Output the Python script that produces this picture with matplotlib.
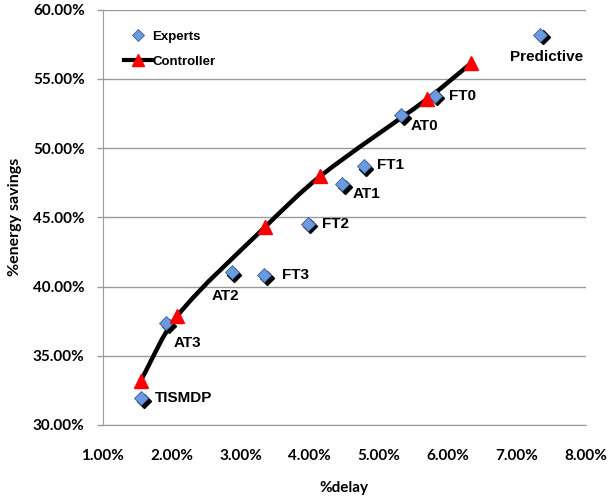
import matplotlib
matplotlib.use("Agg")
import numpy as np
import matplotlib.pyplot as plt
import matplotlib.transforms as mtransforms
from matplotlib.path import Path
from matplotlib.patches import PathPatch
from matplotlib.ticker import FuncFormatter, MultipleLocator
from matplotlib.lines import Line2D

plt.rcParams['font.family'] = ['Liberation Sans', 'DejaVu Sans']

# Experts (delay %, energy savings %)
expert_names = ["Predictive", "FT0", "AT0", "FT1", "AT1", "FT2", "FT3", "AT2", "AT3", "TISMDP"]
expert_delay = [7.34, 5.81, 5.33, 4.78, 4.47, 3.97, 3.34, 2.87, 1.92, 1.56]
expert_savings = [58.16, 53.77, 52.38, 48.68, 47.40, 44.52, 40.82, 41.04, 37.34, 31.92]

# Controller
ctrl_delay = [1.55, 2.08, 3.35, 4.15, 5.70, 6.34]
ctrl_savings = [33.2, 37.87, 44.28, 47.95, 53.53, 56.12]

# label offsets (pixels) and alignment
label_offsets = {
    "Predictive": (6, -22, "center"),
    "FT0": (14, 0, "left"),
    "AT0": (9, -11, "left"),
    "FT1": (13, 1, "left"),
    "AT1": (10, -10, "left"),
    "FT2": (14, 0, "left"),
    "FT3": (18, 0, "left"),
    "AT2": (-20, -24, "left"),
    "AT3": (7, -20, "left"),
    "TISMDP": (14, 0, "left"),
}

W, H = 609, 500
fig = plt.figure(figsize=(W/100, H/100), dpi=100)
ax = fig.add_axes([102.7/W, 1-425/H, (585.7-102.7)/W, (425-9.5)/H])

ax.set_xlim(1, 8)
ax.set_ylim(30, 60)
ax.yaxis.set_major_locator(MultipleLocator(5))
ax.xaxis.set_major_locator(MultipleLocator(1))
ax.yaxis.set_major_formatter(FuncFormatter(lambda v, p: f"{v:.2f}%"))
ax.xaxis.set_major_formatter(FuncFormatter(lambda v, p: f"{v:.2f}%"))

ax.grid(axis='y', color='#9a9a9a', linewidth=1.0, zorder=0)
ax.set_axisbelow(True)
for s in ['top', 'right']:
    ax.spines[s].set_visible(False)
ax.spines['left'].set_color('#9a9a9a')
ax.spines['bottom'].set_color('#9a9a9a')
ax.tick_params(axis='y', length=4, color='#9a9a9a', width=1, pad=9)
ax.tick_params(axis='x', length=0, pad=17)
for lab in ax.get_xticklabels() + ax.get_yticklabels():
    lab.set_fontweight('bold')
    lab.set_fontsize(11)
    lab.set_family(['Lato', 'DejaVu Sans'])

# Smoothed controller curve: Bezier through the points, tangents scaled by
# segment length (computed in display space, then mapped back to data)
disp = ax.transData.transform(np.column_stack([ctrl_delay, ctrl_savings]))
n = len(disp)
tangents = []
for i in range(n):
    a = disp[i - 1] if i > 0 else disp[i]
    b = disp[i + 1] if i < n - 1 else disp[i]
    d = b - a
    tangents.append(d / np.hypot(*d))
s = 0.33
dverts = [disp[0]]
codes = [Path.MOVETO]
for i in range(n - 1):
    L = np.hypot(*(disp[i + 1] - disp[i]))
    dverts += [disp[i] + tangents[i] * L * s, disp[i + 1] - tangents[i + 1] * L * s, disp[i + 1]]
    codes += [Path.CURVE4] * 3
verts = ax.transData.inverted().transform(np.array(dverts))
ax.add_patch(PathPatch(Path(verts, codes), facecolor='none', edgecolor='black',
                       linewidth=3.2, zorder=3, capstyle='butt'))

# Experts diamonds with shadow
shadow_tr = mtransforms.offset_copy(ax.transData, fig=fig, x=2.5, y=-2.5, units='dots')
ax.plot(expert_delay, expert_savings, linestyle='none', marker='D', markersize=7.5,
        color='black', transform=shadow_tr, zorder=4)
ax.plot(expert_delay, expert_savings, linestyle='none', marker='D', markersize=7.5,
        markerfacecolor='#6a9ae0', markeredgecolor='#3b5f9a', markeredgewidth=0.6, zorder=5)

# Controller triangles
ax.plot(ctrl_delay, ctrl_savings, linestyle='none', marker='^', markersize=10.5,
        color='#ff0000', markeredgecolor='#ff0000', zorder=6)

for name, x, y in zip(expert_names, expert_delay, expert_savings):
    dx, dy, ha = label_offsets[name]
    ax.annotate(name, (x, y), xytext=(dx, dy), textcoords='offset pixels',
                ha=ha, va='center', fontsize=11, fontweight='bold', zorder=7)

ax.set_xlabel("%delay", fontsize=11, fontweight='bold', labelpad=13,
              family=['Lato', 'DejaVu Sans'])
ax.set_ylabel("%energy savings", fontsize=11.5, fontweight='bold', labelpad=8,
              family=['Lato', 'DejaVu Sans'])

h1 = Line2D([], [], linestyle='none', marker='D', markersize=6,
            markerfacecolor='#6a9ae0', markeredgecolor='#3b5f9a', markeredgewidth=0.6)
h2 = Line2D([], [], color='black', linewidth=3, marker='^', markersize=9,
            markerfacecolor='#ff0000', markeredgecolor='#ff0000')
leg = ax.legend([h1, h2], ["Experts", "Controller"], loc='upper left',
                bbox_to_anchor=(0.033, 0.962), borderaxespad=0, frameon=False,
                handlelength=2.1, handletextpad=0.05, labelspacing=0.95,
                prop={'weight': 'bold', 'size': 9.5})

fig.savefig("out.png", dpi=100)
